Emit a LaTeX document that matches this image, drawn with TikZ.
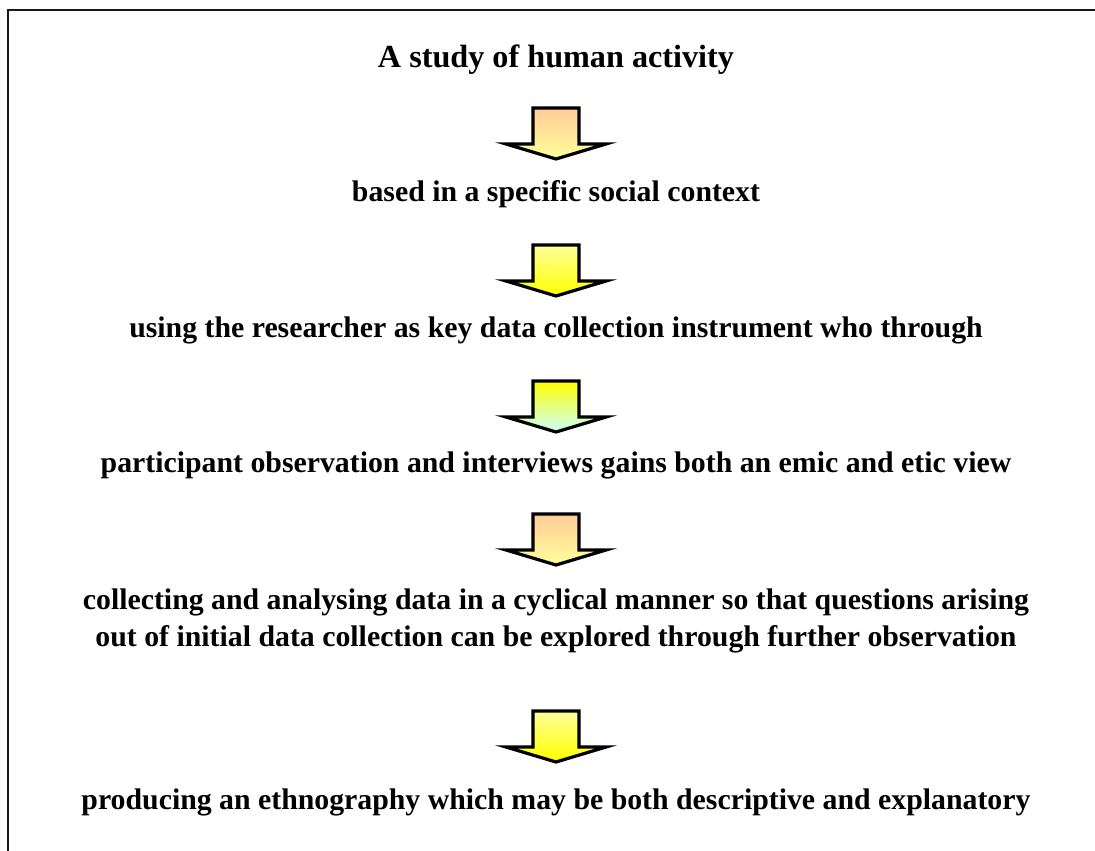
\documentclass[tikz,border=0pt]{standalone}
\usepackage{fontspec}
\setmainfont{Liberation Serif}
\begin{document}
\begin{tikzpicture}[x=1pt,y=-1pt,
  steptext/.style={font=\bfseries\fontsize{29.8}{37}\selectfont, anchor=base, align=center, inner sep=0pt},
  blockarrow/.style={draw=black, line width=3.2pt, line join=miter, miter limit=10}]
\definecolor{peach}{HTML}{FFCC99}
\definecolor{paleyellow}{HTML}{FFFF99}
\definecolor{brightyellow}{HTML}{FFFF00}
\definecolor{palecyan}{HTML}{CCFFFF}
\useasboundingbox (0,0) rectangle (1095,851);
\clip (0,0) rectangle (1095,851);
% outer frame, open to the right and below
\draw[line width=2.2pt, draw=black!90] (8,10) rectangle (1110,870);

% a down-pointing block arrow: #1 = top of shaft, #2/#3 = gradient colours
\newcommand{\downarrowblock}[3]{%
  \shade[blockarrow, top color=#2, bottom color=#3]
    (533,#1) -- (579,#1) -- (579,#1+36) -- (606,#1+36) -- (556,#1+51)
    -- (506,#1+36) -- (533,#1+36) -- cycle;}

\node[steptext, font=\bfseries\fontsize{32.2}{37}\selectfont] (s1) at (556,68) {A study of human activity};
\node[steptext] (s2) at (556,201) {based in a specific social context};
\node[steptext] (s3) at (556,337) {using the researcher as key data collection instrument who through};
\node[steptext] (s4) at (556,472) {participant observation and interviews gains both an emic and etic view};
\node[steptext] (s5) at (556,609) {collecting and analysing data in a cyclical manner so that questions arising};
\node[steptext] (s5b) at (556,646) {out of initial data collection can be explored through further observation};
\node[steptext] (s6) at (556,809) {producing an ethnography which may be both descriptive and explanatory};

\downarrowblock{108}{peach}{paleyellow}
\downarrowblock{245}{paleyellow}{brightyellow}
\downarrowblock{381}{brightyellow}{palecyan}
\downarrowblock{514}{peach}{paleyellow}
\downarrowblock{711}{paleyellow}{brightyellow}
\end{tikzpicture}
\end{document}
